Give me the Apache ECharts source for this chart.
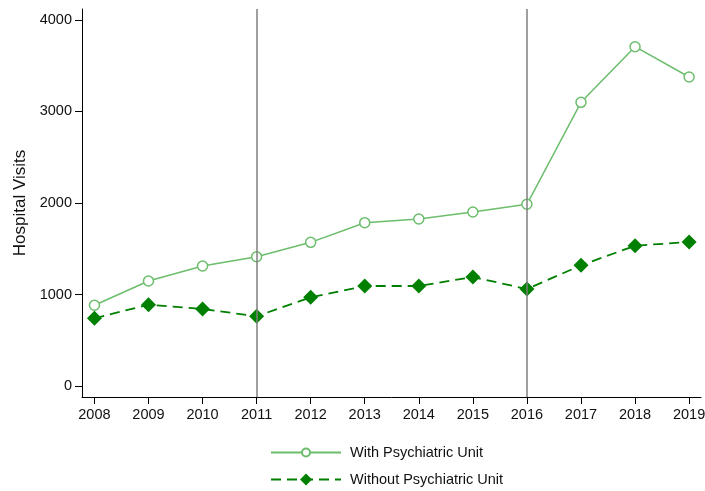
<!DOCTYPE html>
<html>
<head>
<meta charset="utf-8">
<script src="https://cdn.jsdelivr.net/npm/echarts@6/dist/echarts.min.js"></script>
<style>
  html, body { margin: 0; padding: 0; background: #fff; }
  #chart { width: 705px; height: 491px; }
</style>
</head>
<body>
<div id="chart"></div>
<script>
// Years on the horizontal axis
const years = [2008, 2009, 2010, 2011, 2012, 2013, 2014, 2015, 2016, 2017, 2018, 2019];
// Hospital visits per year
const withUnit = [882, 1148, 1311, 1413, 1570, 1785, 1825, 1902, 1986, 3100, 3708, 3377];
const withoutUnit = [740, 889, 842, 762, 969, 1093, 1093, 1191, 1060, 1319, 1533, 1574];
// Reference years marked with vertical lines
const markerYears = [2011, 2016];
// Y tick labels
const yTicks = [0, 1000, 2000, 3000, 4000];

const font = 'Liberation Sans, Arial, Helvetica, sans-serif';
const textColor = '#111111';
const lightGreen = '#6cbd6c';
const darkGreen = '#008000';

const chart = echarts.init(document.getElementById('chart'), null, { renderer: 'canvas' });

const legendBase = {
  orient: 'vertical',
  left: 265,
  itemWidth: 70,
  textStyle: { fontFamily: font, fontSize: 14.5, color: textColor, padding: [0, 0, 0, 4] }
};

chart.setOption({
  animation: false,
  backgroundColor: '#ffffff',
  grid: {
    left: 82, right: 4, top: 9, bottom: 94,
    containLabel: false,
    outerBoundsMode: 'none'
  },
  legend: [
    Object.assign({}, legendBase, { top: 440, itemHeight: 10, data: ['With Psychiatric Unit'] }),
    Object.assign({}, legendBase, { top: 467, itemHeight: 15, data: ['Without Psychiatric Unit'] })
  ],
  xAxis: {
    type: 'value',
    min: 2007.77,
    max: 2019.22,
    splitLine: { show: false },
    axisLine: { show: true, onZero: false, lineStyle: { color: '#000', width: 1 } },
    axisTick: { show: true, length: 7, customValues: years, lineStyle: { color: '#000' } },
    axisLabel: {
      customValues: years,
      margin: 10,
      fontFamily: font,
      fontSize: 14.5,
      color: textColor,
      formatter: v => String(Math.round(v))
    }
  },
  yAxis: {
    type: 'value',
    min: -120,
    max: 4120,
    name: 'Hospital Visits',
    nameLocation: 'middle',
    nameGap: 52,
    nameTextStyle: { fontFamily: font, fontSize: 17, color: textColor },
    splitLine: { show: false },
    axisLine: { show: true, onZero: false, lineStyle: { color: '#000', width: 1 } },
    axisTick: { show: true, length: 7, customValues: yTicks, lineStyle: { color: '#000' } },
    axisLabel: {
      customValues: yTicks,
      margin: 10,
      fontFamily: font,
      fontSize: 14.5,
      color: textColor,
      formatter: v => String(Math.round(v))
    }
  },
  series: [
    {
      name: 'With Psychiatric Unit',
      type: 'line',
      data: years.map((y, i) => [y, withUnit[i]]),
      symbol: 'circle',
      symbolSize: 10,
      showAllSymbol: true,
      lineStyle: { color: lightGreen, width: 1.5 },
      itemStyle: { color: '#ffffff', borderColor: lightGreen, borderWidth: 1.5 },
      z: 3,
      markLine: {
        silent: true,
        symbol: 'none',
        label: { show: false },
        lineStyle: { color: '#7f7f7f', width: 1.5, type: 'solid' },
        data: markerYears.map(y => ({ xAxis: y }))
      }
    },
    {
      name: 'Without Psychiatric Unit',
      type: 'line',
      data: years.map((y, i) => [y, withoutUnit[i]]),
      symbol: 'diamond',
      symbolSize: 15,
      showAllSymbol: true,
      lineStyle: { color: darkGreen, width: 1.8, type: [10, 6] },
      itemStyle: { color: darkGreen },
      z: 4
    }
  ]
});
</script>
</body>
</html>
